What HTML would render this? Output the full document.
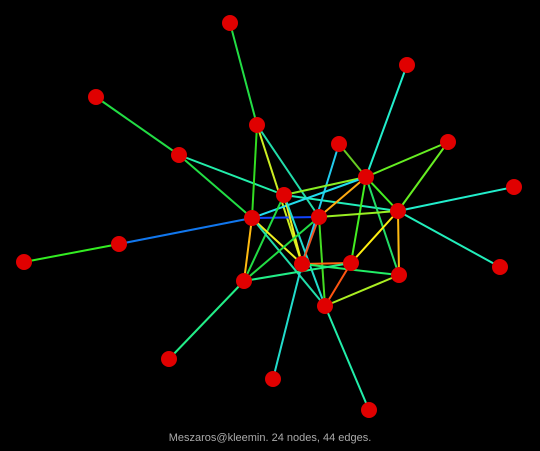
<!DOCTYPE html>
<html><head><meta charset="utf-8"><style>
html,body{margin:0;padding:0;background:#000;}
svg{display:block;}
</style></head><body>
<svg id="g" width="540" height="451" viewBox="0 0 540 451">
<rect width="540" height="451" fill="#000"/>
<g id="edges"></g>
<g id="nodes"></g>
<text x="270" y="441" text-anchor="middle" font-family="Liberation Sans, sans-serif" font-size="11" fill="#aaa">Meszaros@kleemin. 24 nodes, 44 edges.</text>
</svg>
<script>
const nodeIds=["A","B","C","D","E","F","G","H","I","J","K","L","M","N","O","P","Q","R","S","T","U","V","W","X"];
const nodeX=[230,407,96,257,339,448,179,366,514,284,252,319,398,119,24,302,351,399,500,244,325,169,273,369];
const nodeY=[23,65,97,125,144,142,155,177,187,195,218,217,211,244,262,264,263,275,267,281,306,359,379,410];
const edgeList=[["A","D","#22dd44"],["B","H","#22eecc"],["C","G","#22dd44"],["G","K","#22dd44"],["G","J","#22eeaa"],["J","M","#22eebb"],["D","K","#33dd22"],["D","P","#ccee22"],["D","L","#22ddaa"],["E","P","#22ccee"],["E","H","#66cc22"],["H","J","#88ee22"],["H","K","#22ddee"],["H","L","#ffaa11"],["H","Q","#44ee22"],["H","R","#22dd66"],["H","M","#44ee22"],["H","F","#66ee22"],["F","M","#66ee22"],["M","I","#22eecc"],["M","S","#22eebb"],["N","K","#1177ee"],["K","L","#1144ff"],["L","M","#99ee22"],["J","T","#22dd44"],["J","P","#eeee22"],["J","U","#22ddcc"],["K","T","#ffbb11"],["K","P","#eeee22"],["K","U","#22ddaa"],["L","T","#22dd44"],["L","P","#ee5522"],["L","U","#44dd22"],["M","Q","#ffee11"],["M","R","#ffbb11"],["P","Q","#ff6611"],["P","R","#22ee66"],["Q","U","#ff5511"],["R","U","#aaee22"],["T","Q","#22ee88"],["T","V","#22ee88"],["P","W","#22ddcc"],["U","X","#22eeaa"],["N","O","#33ee22"]];
const NS="http://www.w3.org/2000/svg";
const eg=document.getElementById("edges"),ng=document.getElementById("nodes");
function idx(n){return nodeIds.indexOf(n);}
edgeList.forEach(e=>{const a=idx(e[0]),b=idx(e[1]);
const l=document.createElementNS(NS,"line");
l.setAttribute("x1",nodeX[a]);l.setAttribute("y1",nodeY[a]);l.setAttribute("x2",nodeX[b]);l.setAttribute("y2",nodeY[b]);
l.setAttribute("stroke",e[2]);l.setAttribute("stroke-width","2");


eg.appendChild(l);});
nodeIds.forEach((n,i)=>{const c=document.createElementNS(NS,"circle");
c.setAttribute("cx",nodeX[i]);c.setAttribute("cy",nodeY[i]);c.setAttribute("r","8");c.setAttribute("fill","#e00000");


ng.appendChild(c);});
</script>
</body></html>
